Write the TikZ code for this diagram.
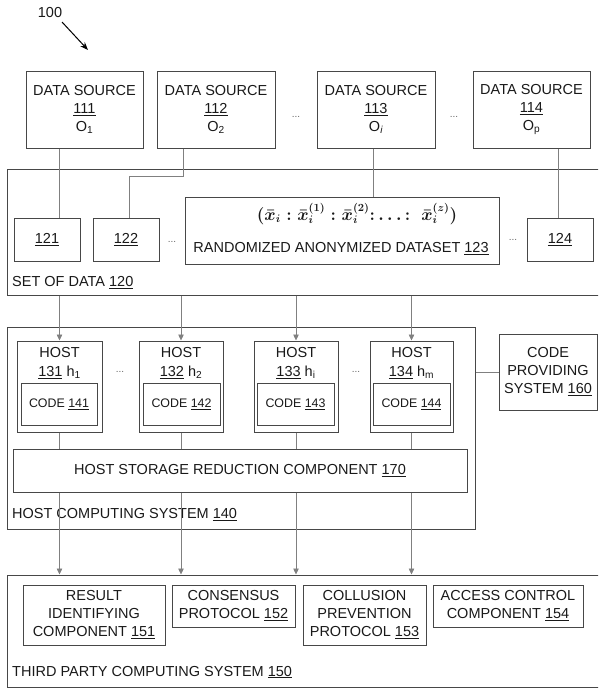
\documentclass[tikz,border=0pt]{standalone}
\usepackage{fontspec}
\setmainfont{Liberation Sans}
\usetikzlibrary{arrows.meta}
\begin{document}
\begin{tikzpicture}[x=1pt,y=-1pt,
  every node/.style={text=black!90},
  box/.style={draw=black!72, line width=1pt, inner sep=0pt, align=center,
    font=\fontsize{14.5}{18}\selectfont},
  lab/.style={inner sep=0pt, align=center, font=\fontsize{14.5}{19}\selectfont},
  small/.style={font=\fontsize{12.4}{14}\selectfont},
  dots/.style={inner sep=0pt, text=black!60, font=\fontsize{10}{12}\selectfont},
  conn/.style={draw=black!50, line width=0.7pt},
  arr/.style={conn, -{Triangle[length=6pt,width=5.5pt]}},
  callout/.style={draw=black, line width=1pt, -{Stealth[length=8pt,width=6pt]}}]
\useasboundingbox (0,0) rectangle (598,688);
\clip (0,0) rectangle (598,688);

% reference label
\node[lab] (l100) at (50,13) {100};
\coordinate (p100) at (88,50);
\draw[callout] (62,22) -- (p100);

% data sources
\node[box, minimum width=117pt, minimum height=77pt] (ds111) at (84.5,109.5) {DATA SOURCE\\\underline{111}\\O\textsubscript{1}};
\node[box, minimum width=118pt, minimum height=77pt] (ds112) at (216,109.5) {DATA SOURCE\\\underline{112}\\O\textsubscript{2}};
\node[box, minimum width=118pt, minimum height=77pt] (ds113) at (376,109.5) {DATA SOURCE\\\underline{113}\\O\textsubscript{\itshape i}};
\node[box, minimum width=117pt, minimum height=77pt] (ds114) at (531.5,109.5) {DATA SOURCE\\\underline{114}\\O\textsubscript{p}};
\node[dots] (dA) at (296,117) {...};
\node[dots] (dB) at (454,117) {...};

% set of data 120
\node[box, minimum width=594pt, minimum height=126pt] (set) at (304,232) {};
\node[box, minimum width=66pt, minimum height=43pt] (d121) at (47,239.5) {\underline{121}};
\node[box, minimum width=66pt, minimum height=43pt] (d122) at (126,239.5) {\underline{122}};
\node[box, minimum width=314pt, minimum height=67pt] (d123) at (342,230.5) {};
\node[box, minimum width=66pt, minimum height=43pt] (d124) at (560,239.5) {\underline{124}};
\node[dots] (dC) at (172,242) {...};
\node[dots] (dD) at (513,240) {...};
\node[inner sep=0pt, font=\fontsize{16}{18}\selectfont\boldmath] (form) at (357,214)
  {$\Bigl(\bar{x}_i\;{:}\;\bar{x}_i^{(1)}\;{:}\;\bar{x}_i^{(2)}{:}\ldots{:}\;\;\bar{x}_i^{(z)}\Bigr)$};
\node[lab] (t123) at (341,249) {RANDOMIZED ANONYMIZED DATASET \underline{123}};
\node[lab, anchor=west] (t120) at (12,283) {SET OF DATA \underline{120}};

\draw[conn] ([xshift=-25.5pt]ds111.south) -- ([xshift=-25.5pt]ds111.south |- d121.north);
\draw[conn] ([xshift=-33pt]ds112.south) -- ++(0,28) -| ([xshift=3pt]d122.north);
\draw[conn] ([xshift=-3pt]ds113.south) -- ([xshift=-3pt]ds113.south |- d123.north);
\draw[conn] ([xshift=26.5pt]ds114.south) -- ([xshift=26.5pt]ds114.south |- d124.north);

% host computing system 140
\node[box, minimum width=468pt, minimum height=202pt] (hcs) at (241,428) {};
\node[box, minimum width=85pt, minimum height=91pt] (h131) at (59.5,386.5) {};
\node[box, minimum width=84pt, minimum height=91pt] (h132) at (181,386.5) {};
\node[box, minimum width=84pt, minimum height=91pt] (h133) at (296,386.5) {};
\node[box, minimum width=83pt, minimum height=91pt] (h134) at (411.5,386.5) {};
\node[lab] (th131) at (59.5,363) {HOST\\\underline{131} h\textsubscript{1}};
\node[lab] (th132) at (181,363) {HOST\\\underline{132} h\textsubscript{2}};
\node[lab] (th133) at (296,363) {HOST\\\underline{133} h\textsubscript{i}};
\node[lab] (th134) at (411.5,363) {HOST\\\underline{134} h\textsubscript{m}};
\node[box, small, minimum width=76pt, minimum height=42pt] (c141) at (59,404) {CODE \underline{141}};
\node[box, small, minimum width=77pt, minimum height=42pt] (c142) at (181.5,404) {CODE \underline{142}};
\node[box, small, minimum width=77pt, minimum height=42pt] (c143) at (295.5,404) {CODE \underline{143}};
\node[box, small, minimum width=77pt, minimum height=42pt] (c144) at (411.5,404) {CODE \underline{144}};
\node[dots] (dE) at (120,372) {...};
\node[dots] (dF) at (356,372) {...};
\node[box, minimum width=454pt, minimum height=43pt] (srd) at (240,470.5) {HOST STORAGE REDUCTION COMPONENT \underline{170}};
\node[lab, anchor=west] (t140) at (12,515) {HOST COMPUTING SYSTEM \underline{140}};

% code providing system
\node[box, minimum width=98pt, minimum height=76pt] (cps) at (548,372) {CODE\\PROVIDING\\SYSTEM \underline{160}};
\draw[conn] (hcs.east |- cps.west) -- (cps.west);

% arrows set -> hosts
\foreach \h in {h131,h132,h133,h134} {
  \draw[arr] (\h.north |- set.south) -- (\h.north);
  \draw[conn] (\h.south) -- (\h.south |- srd.north);
}

% third party computing system 150
\node[box, minimum width=594pt, minimum height=112pt] (tp) at (304,631) {};
\node[box, minimum width=142pt, minimum height=60pt] (c151) at (94,615) {RESULT\\IDENTIFYING\\COMPONENT \underline{151}};
\node[box, minimum width=123pt, minimum height=42pt] (c152) at (233.5,606) {CONSENSUS\\PROTOCOL \underline{152}};
\node[box, minimum width=123pt, minimum height=60pt] (c153) at (364.5,615) {COLLUSION\\PREVENTION\\PROTOCOL \underline{153}};
\node[box, minimum width=150pt, minimum height=42pt] (c154) at (508,606) {ACCESS CONTROL\\COMPONENT \underline{154}};
\node[lab, anchor=west] (t150) at (12,672) {THIRD PARTY COMPUTING SYSTEM \underline{150}};

\foreach \h in {h131,h132,h133,h134} {
  \draw[arr] (\h.south |- srd.south) -- (\h.south |- tp.north);
}
\end{tikzpicture}
\end{document}
